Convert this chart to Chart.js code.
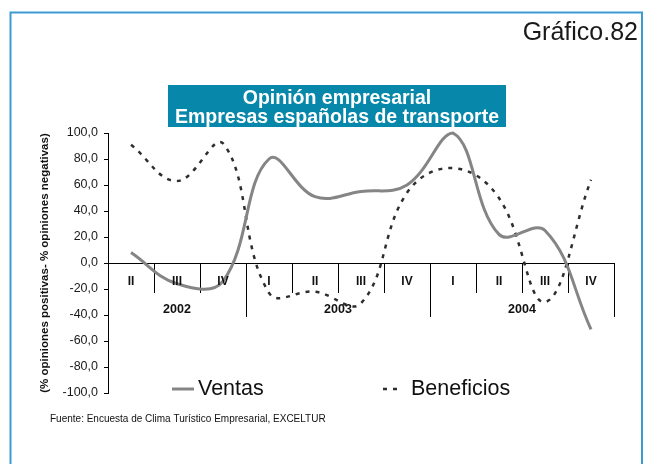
<!DOCTYPE html>
<html>
<head>
<meta charset="utf-8">
<script src="https://cdn.jsdelivr.net/npm/chart.js"></script>
<style>
  body { margin: 0; background: #fff; }
  canvas { display: block; }
</style>
</head>
<body>
<canvas id="chart" width="650" height="464"></canvas>
<script>
// Datos (saldo % opiniones positivas - % negativas)
const quarters = ["II", "III", "IV", "I", "II", "III", "IV", "I", "II", "III", "IV"];
const years = ["2002", "2003", "2004"];
const yearSpans = [3, 4, 4];
const ventas = [8, -16, -14, 80, 51, 55, 60, 100, 22, 25, -51];
const beneficios = [91, 63, 92, -23, -22, -31, 54, 73, 50, -30, 64];

const FONT = "'Liberation Sans', Arial, sans-serif";

// misma alineación que usa Chart.js para las líneas de 1px
const align = px => Math.round(px - 0.5) + 0.5;

const decor = {
  id: "decor",
  beforeDraw(chart) {
    const ctx = chart.ctx;
    ctx.save();
    ctx.fillStyle = "#fff";
    ctx.fillRect(0, 0, chart.width, chart.height);

    // marco azul
    ctx.strokeStyle = "#3d9bd1";
    ctx.lineWidth = 2;
    ctx.strokeRect(10.5, 12.5, 631.5, 480);

    ctx.fillStyle = "#1a1a1a";
    ctx.font = "25px " + FONT;
    ctx.textAlign = "right";
    ctx.textBaseline = "alphabetic";
    ctx.fillText("Gráfico.82", 638, 40);

    // caja del título
    ctx.fillStyle = "#0787a9";
    ctx.fillRect(168, 85, 338, 42);
    ctx.fillStyle = "#fff";
    ctx.font = "bold 19.5px " + FONT;
    ctx.textAlign = "center";
    ctx.textBaseline = "middle";
    ctx.fillText("Opinión empresarial", 337, 99);
    ctx.fillText("Empresas españolas de transporte", 337, 118);
    ctx.restore();
  },
  afterDraw(chart) {
    const ctx = chart.ctx;
    const x = chart.scales.x;
    const y0 = chart.scales.y.getPixelForValue(0);
    ctx.save();

    // etiquetas de trimestre
    ctx.fillStyle = "#111";
    ctx.font = "bold 12px " + FONT;
    ctx.textAlign = "center";
    ctx.textBaseline = "middle";
    quarters.forEach((q, i) => ctx.fillText(q, x.getPixelForValue(i), y0 + 19));

    // años y separadores largos
    ctx.strokeStyle = "#000";
    ctx.lineWidth = 1;
    ctx.font = "bold 12.5px " + FONT;
    let start = 0;
    years.forEach((yr, k) => {
      const end = start + yearSpans[k] - 1;
      const left = start === 0 ? chart.chartArea.left : (x.getPixelForValue(start - 1) + x.getPixelForValue(start)) / 2;
      const right = end === quarters.length - 1 ? chart.chartArea.right : (x.getPixelForValue(end) + x.getPixelForValue(end + 1)) / 2;
      ctx.fillText(yr, (left + right) / 2, y0 + 47);
      if (k > 0) {
        ctx.beginPath();
        ctx.moveTo(align(left), y0);
        ctx.lineTo(align(left), y0 + 54);
        ctx.stroke();
      }
      if (end === quarters.length - 1) {
        ctx.beginPath();
        ctx.moveTo(align(right), y0);
        ctx.lineTo(align(right), y0 + 54);
        ctx.stroke();
      }
      start = end + 1;
    });

    // leyenda
    const ly = 389;
    const ds = chart.data.datasets;
    ctx.lineWidth = ds[0].borderWidth;
    ctx.strokeStyle = ds[0].borderColor;
    ctx.beginPath();
    ctx.moveTo(172, ly);
    ctx.lineTo(194, ly);
    ctx.stroke();
    ctx.lineWidth = ds[1].borderWidth;
    ctx.strokeStyle = ds[1].borderColor;
    ctx.setLineDash(ds[1].borderDash);
    ctx.beginPath();
    ctx.moveTo(383, ly);
    ctx.lineTo(399, ly);
    ctx.stroke();
    ctx.setLineDash([]);
    ctx.fillStyle = "#111";
    ctx.font = "21.5px " + FONT;
    ctx.textAlign = "left";
    ctx.fillText(ds[0].label, 198, ly);
    ctx.fillText(ds[1].label, 411, ly);

    ctx.font = "10px " + FONT;
    ctx.fillText("Fuente: Encuesta de Clima Turístico Empresarial, EXCELTUR", 50, 419);
    ctx.restore();
  }
};

new Chart(document.getElementById("chart"), {
  type: "line",
  data: {
    labels: quarters,
    datasets: [
      {
        label: "Ventas",
        data: ventas,
        borderColor: "#858585",
        borderWidth: 3,
        tension: 0.4,
        pointRadius: 0,
        clip: false
      },
      {
        label: "Beneficios",
        data: beneficios,
        borderColor: "#2e2e2e",
        borderWidth: 2.5,
        borderDash: [4, 6],
        tension: 0.4,
        pointRadius: 0,
        clip: false
      }
    ]
  },
  options: {
    responsive: false,
    devicePixelRatio: 1,
    animation: false,
    layout: { padding: { top: 133, bottom: 71, left: 0, right: 36 } },
    plugins: {
      legend: { display: false },
      tooltip: { enabled: false }
    },
    scales: {
      x: {
        type: "category",
        position: { y: 0 },
        offset: true,
        grid: { offset: true, drawOnChartArea: false, drawTicks: true, tickLength: 29, color: "#000", lineWidth: 1 },
        border: { display: true, color: "#000", width: 1 },
        ticks: { display: false }
      },
      y: {
        position: "left",
        min: -100,
        max: 100,
        ticks: {
          stepSize: 20,
          padding: 6,
          color: "#1a1a1a",
          font: { family: FONT, size: 12.5 },
          callback: v => v.toFixed(1).replace(".", ",")
        },
        grid: { drawOnChartArea: false, tickLength: 4, color: "#000" },
        border: { color: "#000", width: 1 },
        title: {
          display: true,
          text: "(% opiniones positivas- % opiniones negativas)",
          color: "#111",
          font: { family: FONT, size: 11.5, weight: "bold" },
          padding: { top: 38, bottom: 0 }
        },
        afterFit(scale) { scale.width = 108; }
      }
    }
  },
  plugins: [decor]
});
</script>
</body>
</html>
